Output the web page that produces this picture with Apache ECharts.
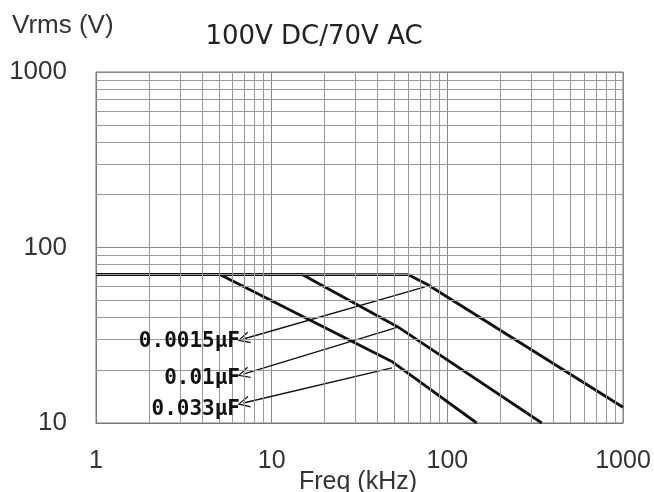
<!DOCTYPE html>
<html>
<head>
<meta charset="utf-8">
<script src="https://cdn.jsdelivr.net/npm/echarts@6/dist/echarts.min.js"></script>
<style>
  html, body { margin: 0; padding: 0; background: #fff; }
  #chart { width: 654px; height: 492px; }
</style>
</head>
<body>
<div id="chart"></div>
<script>
// curve data: [freq kHz, Vrms]
const curve0015 = [[1, 70], [60, 70], [77, 61.5], [1000, 12.3]];
const curve01 = [[1, 70], [15, 70], [52, 35.4], [345, 10]];
const curve033 = [[1, 70], [5.1, 70], [48, 22.5], [147, 10]];

// capacitor labels and where their arrows point
const capLabels = ["0.0015µF", "0.01µF", "0.033µF"];
const arrowFrom = [[6.9, 30.1], [6.9, 19.0], [6.9, 13.0]];
const arrowTo = [[74.6, 59.6], [52.3, 35.2], [48.4, 20.6]];

// minor grid positions (2..9 of each decade)
const xMinor = [];
[1, 10, 100].forEach(d => { for (let k = 2; k <= 9; k++) xMinor.push(k * d); });
const yMinor = [];
[10, 100].forEach(d => { for (let k = 2; k <= 9; k++) yMinor.push(k * d); });

const myChart = echarts.init(document.getElementById("chart"));

const gridLines = xMinor.map(v => ({ xAxis: v })).concat(yMinor.map(v => ({ yAxis: v })));

const curveStyle = { color: "#111", width: 2.8 };

const option = {
  backgroundColor: "#fff",
  animation: false,
  grid: {
    left: 96, right: 31, top: 72, bottom: 69,
    containLabel: false,
    outerBoundsMode: "none",
    show: true, borderColor: "#777", borderWidth: 1
  },
  xAxis: {
    type: "log", logBase: 10, min: 1, max: 1000,
    axisLine: { show: true, lineStyle: { color: "#777", width: 1 } },
    axisTick: { show: false },
    axisLabel: {
      margin: 26, color: "#333", fontSize: 25,
      fontFamily: "Liberation Sans",
      formatter: v => String(Math.round(v))
    },
    splitLine: { show: true, lineStyle: { color: "#888", width: 1 } }
  },
  yAxis: {
    type: "log", logBase: 10, min: 10, max: 1000,
    axisLine: { show: true, lineStyle: { color: "#777", width: 1 } },
    axisTick: { show: false },
    axisLabel: {
      margin: 29, color: "#333", fontSize: 26,
      fontFamily: "Liberation Sans",
      formatter: v => String(Math.round(v))
    },
    splitLine: { show: true, lineStyle: { color: "#888", width: 1 } }
  },
  series: [
    {
      // carrier for the minor grid
      type: "line", z: 1, data: [[1, 10]], symbol: "none",
      lineStyle: { width: 0 }, silent: true,
      markLine: {
        silent: true, symbol: "none", animation: false,
        label: { show: false },
        lineStyle: { color: "#999", width: 1, type: "solid" },
        data: gridLines
      }
    },
    { name: "0.0015µF", type: "line", z: 3, symbol: "none", data: curve0015, lineStyle: curveStyle },
    { name: "0.01µF", type: "line", z: 3, symbol: "none", data: curve01, lineStyle: curveStyle },
    { name: "0.033µF", type: "line", z: 3, symbol: "none", data: curve033, lineStyle: curveStyle },
    {
      type: "lines", coordinateSystem: "cartesian2d", z: 4,
      symbol: ["path://M6,0 L12,14 L10.6,14 L6,3 L1.4,14 L0,14 Z", "none"],
      symbolSize: [12, 14],
      lineStyle: { color: "#111", width: 1.4, opacity: 1 },
      data: arrowFrom.map((p, i) => ({ coords: [p, arrowTo[i]] }))
    }
  ],
  graphic: [
    {
      type: "text", left: 12, top: 13,
      style: { text: "Vrms (V)", font: "26px 'Liberation Sans'", fill: "#333" }
    },
    {
      type: "text", x: 314, y: 37,
      style: { text: "100V DC/70V AC", font: "26px 'DejaVu Sans'", fill: "#222", textAlign: "center", textVerticalAlign: "middle" }
    },
    {
      type: "text", x: 358, y: 482,
      style: { text: "Freq (kHz)", font: "25px 'Liberation Sans'", fill: "#333", textAlign: "center", textVerticalAlign: "middle" }
    }
  ].concat(capLabels.map((t, i) => ({
    type: "text", x: 240, y: [342, 379, 410][i], z: 10,
    style: { text: t, font: "bold 21px 'DejaVu Sans Mono'", fill: "#111", textAlign: "right", textVerticalAlign: "middle" }
  })))
};

myChart.setOption(option);
</script>
</body>
</html>
